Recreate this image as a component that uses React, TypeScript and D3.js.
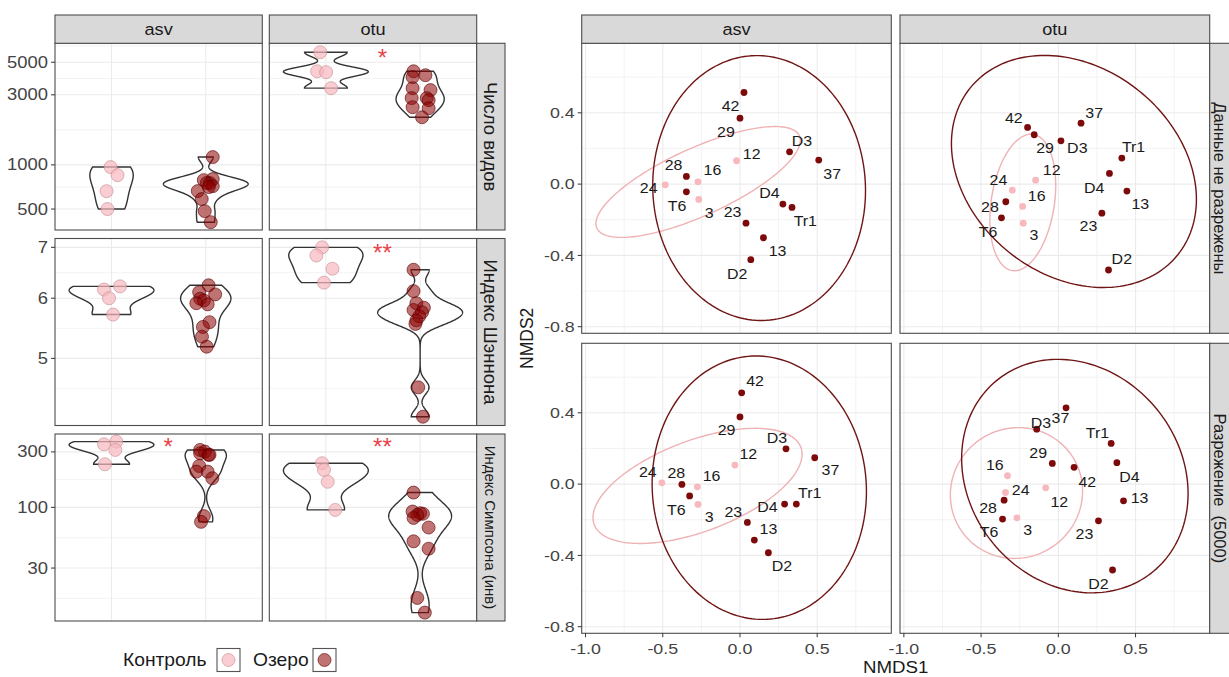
import React from "react";
import * as d3 from "d3";

// ---------- left: violins ----------
const types = ["asv", "otu"];
const metrics = ["Число видов", "Индекс Шэннона", "Индекс Симпсона (инв)"];
const groups = ["Контроль", "Озеро"];

const richAsvCtrl = [966, 851, 662, 500];
const richAsvLake = [1130, 787, 800, 751, 753, 716, 663, 585, 484, 407, 706];
const richOtuCtrl = [5850, 4340, 4280, 3330];
const richOtuLake = [4340, 4080, 3960, 3330, 3230, 2850, 2850, 2760, 2470, 2430, 2110];
const shanAsvCtrl = [6.16, 6.22, 6.0, 5.71];
const shanAsvLake = [6.24, 6.11, 6.07, 5.99, 5.96, 5.91, 5.89, 5.58, 5.5, 5.34, 5.18];
const shanOtuCtrl = [7.0, 6.83, 6.56, 6.29];
const shanOtuLake = [6.54, 6.13, 5.91, 5.83, 5.79, 5.75, 5.68, 5.61, 5.55, 4.58, 4.19];
const simpAsvCtrl = [349, 368, 312, 235];
const simpAsvLake = [312, 302, 292, 283, 283, 227, 203, 203, 178, 84, 75];
const simpOtuCtrl = [240, 210, 166, 95];
const simpOtuLake = [134, 92, 89, 88, 86, 81, 67, 51, 44, 16.6, 12.4];

// jitter (x units)
const jRichAsvCtrl = [-0.01, 0.064, -0.053, -0.043];
const jRichAsvLake = [0.074, -0.021, 0.074, 0.043, 0.011, 0.074, -0.085, -0.043, -0.011, 0.053, 0.032];
const jRichOtuCtrl = [-0.06, -0.093, 0.003, 0.056];
const jRichOtuLake = [-0.07, 0.056, -0.08, -0.08, 0.11, -0.09, 0.07, 0.09, -0.08, 0.09, 0.02];
const jShanAsvCtrl = [-0.08, 0.09, -0.027, 0.016];
const jShanAsvLake = [0.03, -0.07, 0.1, -0.06, -0.02, -0.1, 0.02, 0.04, -0.03, -0.04, 0.01];
const jShanOtuCtrl = [-0.04, -0.1, 0.07, -0.02];
const jShanOtuLake = [-0.07, -0.07, -0.04, 0.04, -0.07, 0.02, -0.01, -0.04, -0.05, -0.02, 0.03];
const jSimpAsvCtrl = [-0.08, 0.05, 0.04, -0.07];
const jSimpAsvLake = [-0.06, -0.01, -0.06, 0.03, 0.04, -0.07, -0.1, 0.02, 0.07, -0.02, -0.05];
const jSimpOtuCtrl = [-0.04, -0.02, 0.02, 0.1];
const jSimpOtuLake = [-0.07, -0.08, 0, 0.03, -0.03, -0.07, 0.09, -0.07, 0.09, -0.03, 0.05];

const violinValues = [
  [[richAsvCtrl, richAsvLake], [richOtuCtrl, richOtuLake]],
  [[shanAsvCtrl, shanAsvLake], [shanOtuCtrl, shanOtuLake]],
  [[simpAsvCtrl, simpAsvLake], [simpOtuCtrl, simpOtuLake]],
];
const violinJitter = [
  [[jRichAsvCtrl, jRichAsvLake], [jRichOtuCtrl, jRichOtuLake]],
  [[jShanAsvCtrl, jShanAsvLake], [jShanOtuCtrl, jShanOtuLake]],
  [[jSimpAsvCtrl, jSimpAsvLake], [jSimpOtuCtrl, jSimpOtuLake]],
];
const metricDomains = [[360, 6730], [4.08, 7.19], [10.5, 428]];
const metricBreaks = [[500, 1000, 3000, 5000], [5, 6, 7], [30, 100, 300]];
const signif = [
  { metric: 0, type: 1, label: "*" },
  { metric: 1, type: 1, label: "**" },
  { metric: 2, type: 0, label: "*" },
  { metric: 2, type: 1, label: "**" },
];

// ---------- right: NMDS ----------
const nmdsRows = ["Данные не разрежены", "Разрежение\u00a0\u00a0(5000)"];
const lakeSamples = ["42", "29", "D3", "37", "28", "T6", "D4", "Tr1", "23", "13", "D2"];
const ctrlSamples = ["24", "16", "3", "12"];

const asvRawLake = [[0.026, 0.514], [0.0, 0.37], [0.321, 0.181], [0.51, 0.135], [-0.347, 0.043], [-0.347, -0.043], [0.278, -0.112], [0.337, -0.131], [0.039, -0.219], [0.152, -0.301], [0.07, -0.424]];
const asvRawLakeLab = [[-0.061, 0.439], [-0.091, 0.293], [0.402, 0.243], [0.597, 0.056], [-0.43, 0.107], [-0.408, -0.122], [0.191, -0.05], [0.423, -0.206], [-0.048, -0.155], [0.243, -0.376], [-0.018, -0.501]];
const asvRawCtrl = [[-0.484, -0.004], [-0.272, 0.013], [-0.267, -0.086], [-0.022, 0.131]];
const asvRawCtrlLab = [[-0.591, -0.019], [-0.178, 0.079], [-0.2, -0.163], [0.076, 0.172]];

const otuRawLake = [[-0.199, 0.318], [-0.156, 0.277], [0.017, 0.243], [0.147, 0.342], [-0.34, -0.099], [-0.368, -0.189], [0.331, 0.06], [0.411, 0.146], [0.282, -0.163], [0.444, -0.039], [0.325, -0.482]];
const otuRawLakeLab = [[-0.288, 0.374], [-0.086, 0.206], [0.123, 0.206], [0.232, 0.402], [-0.443, -0.125], [-0.455, -0.267], [0.232, -0.022], [0.487, 0.211], [0.195, -0.237], [0.531, -0.112], [0.411, -0.421]];
const otuRawCtrl = [[-0.298, -0.034], [-0.231, -0.125], [-0.227, -0.219], [-0.147, 0.022]];
const otuRawCtrlLab = [[-0.388, 0.022], [-0.14, -0.066], [-0.158, -0.286], [-0.043, 0.079]];

const asvRareLake = [[0.011, 0.512], [0.0, 0.377], [0.298, 0.198], [0.484, 0.148], [-0.376, -0.002], [-0.326, -0.066], [0.289, -0.112], [0.365, -0.112], [0.048, -0.215], [0.093, -0.314], [0.184, -0.385]];
const asvRareLakeLab = [[0.098, 0.579], [-0.087, 0.303], [0.239, 0.262], [0.586, 0.079], [-0.412, 0.063], [-0.412, -0.146], [0.178, -0.127], [0.452, -0.049], [-0.043, -0.155], [0.184, -0.249], [0.272, -0.46]];
const asvRareCtrl = [[-0.506, 0.007], [-0.276, -0.015], [-0.272, -0.114], [-0.033, 0.107]];
const asvRareCtrlLab = [[-0.597, 0.069], [-0.184, 0.047], [-0.2, -0.183], [0.054, 0.168]];

const otuRareLake = [[0.102, 0.094], [-0.039, 0.116], [-0.14, 0.308], [0.05, 0.428], [-0.351, -0.09], [-0.361, -0.196], [0.379, 0.12], [0.342, 0.228], [0.26, -0.206], [0.422, -0.094], [0.351, -0.482]];
const otuRareLakeLab = [[0.188, 0.013], [-0.13, 0.178], [-0.112, 0.344], [0.014, 0.374], [-0.455, -0.131], [-0.448, -0.267], [0.461, 0.041], [0.253, 0.29], [0.169, -0.277], [0.526, -0.08], [0.26, -0.561]];
const otuRareCtrl = [[-0.342, -0.047], [-0.329, 0.047], [-0.268, -0.189], [-0.082, -0.021]];
const otuRareCtrlLab = [[-0.244, -0.034], [-0.411, 0.11], [-0.199, -0.254], [0.006, -0.099]];

// ellipse: cx, cy, rx, ry, rho
const asvRawEll = { lake: [0.124, -0.022, 0.689, 0.743, -0.02], ctrl: [-0.271, 0.012, 0.662, 0.311, 0.75] };
const otuRawEll = { lake: [0.101, 0.071, 0.793, 0.651, -0.24], ctrl: [-0.23, -0.103, 0.213, 0.383, 0.25] };
const asvRareEll = { lake: [0.125, -0.02, 0.694, 0.739, -0.03], ctrl: [-0.275, -0.01, 0.677, 0.323, 0.55] };
const otuRareEll = { lake: [0.107, 0.045, 0.733, 0.655, -0.15], ctrl: [-0.271, -0.05, 0.428, 0.367, 0.03] };

const nmdsPanels = [
  [
    { lake: asvRawLake, lakeLab: asvRawLakeLab, ctrl: asvRawCtrl, ctrlLab: asvRawCtrlLab, ell: asvRawEll },
    { lake: otuRawLake, lakeLab: otuRawLakeLab, ctrl: otuRawCtrl, ctrlLab: otuRawCtrlLab, ell: otuRawEll },
  ],
  [
    { lake: asvRareLake, lakeLab: asvRareLakeLab, ctrl: asvRareCtrl, ctrlLab: asvRareCtrlLab, ell: asvRareEll },
    { lake: otuRareLake, lakeLab: otuRareLakeLab, ctrl: otuRareCtrl, ctrlLab: otuRareCtrlLab, ell: otuRareEll },
  ],
];
const nmdsXBreaks = [-1.0, -0.5, 0.0, 0.5];
const nmdsYBreaks = [-0.8, -0.4, 0.0, 0.4];

// ---------- helpers ----------
const FONT = "'Liberation Sans', Arial, sans-serif";
const GRID = "#ebebeb";
const BORDER = "#4d4d4d";
const STRIP = "#d9d9d9";
const AXIS = "#444";
const PINK = "#f7b8be";
const DARK = "#7d0a0a";

function minorBreaks(b: number[], lim: number[]) {
  let bb = [...b];
  if (lim[0] < bb[0]) bb = [bb[0] - (bb[1] - bb[0]), ...bb];
  const n = bb.length;
  if (lim[1] > bb[n - 1]) bb = [...bb, bb[n - 1] + (bb[n - 1] - bb[n - 2])];
  const out: number[] = [];
  for (let i = 0; i < bb.length - 1; i++) out.push((bb[i] + bb[i + 1]) / 2);
  return out.filter((v) => v > lim[0] && v < lim[1]);
}

function bwNrd0(x: number[]) {
  const s = d3.deviation(x) || 0;
  const sorted = [...x].sort((a, b) => a - b);
  const iqr = (d3.quantileSorted(sorted, 0.75) || 0) - (d3.quantileSorted(sorted, 0.25) || 0);
  let lo = Math.min(s, iqr / 1.34);
  if (!lo) lo = s || Math.abs(x[0]) || 1;
  return 0.9 * lo * Math.pow(x.length, -0.2);
}

function kde(vals: number[]) {
  const lv = vals.map(Math.log10);
  const bw = bwNrd0(lv);
  const lo = d3.min(lv)!;
  const hi = d3.max(lv)!;
  const n = lv.length;
  return d3.range(512).map((i) => {
    const y = lo + ((hi - lo) * i) / 511;
    const d = d3.sum(lv, (v) => Math.exp(-0.5 * ((y - v) / bw) ** 2)) / (n * bw * Math.sqrt(2 * Math.PI));
    return { y, d };
  });
}

function T({ x, y, size, anchor = "middle", fill = "#1a1a1a", sx = 1.12, rot = 0, children }: any) {
  const tr = rot ? `translate(${x},${y}) rotate(${rot})` : `translate(${x},${y}) scale(${sx},1)`;
  return (
    <text transform={tr} fontSize={size} textAnchor={anchor} dominantBaseline="central" fill={fill} fontFamily={FONT}>
      {children}
    </text>
  );
}

const line = d3.line();

// layout
const LC = [[55, 262.3], [269.3, 476.7]];
const LR = [[43.3, 230], [238.5, 425.5], [434, 621]];
const LSR = [476.7, 505];
const RC = [[581.7, 891.3], [900, 1209.7]];
const RR = [[43.3, 333.3], [343.3, 633.3]];
const RSR = [1209.7, 1240];
const STRIP_TOP = 15;

function LeftPlot() {
  const out: any[] = [];
  metrics.forEach((m, ri) => {
    const [top, bot] = LR[ri];
    const dom = metricDomains[ri];
    const ys = d3.scaleLog().domain(dom).range([bot, top]);
    const logB = metricBreaks[ri].map(Math.log10);
    const minors = minorBreaks(logB, dom.map(Math.log10)).map((v) => Math.pow(10, v));
    const rowMax = d3.max(violinValues[ri].flat(2))!;
    types.forEach((t, ci) => {
      const [x0, x1] = LC[ci];
      const xs = d3.scaleLinear().domain([0.4, 2.6]).range([x0, x1]);
      const dens = violinValues[ri][ci].map((v) => kde(v));
      const maxD = d3.max(dens.flat(), (p) => p.d)!;
      out.push(
        <g key={`p${ri}${ci}`}>
          <rect x={x0} y={top} width={x1 - x0} height={bot - top} fill="#fff" />
          {minors.map((v, i) => (
            <line key={`mi${i}`} x1={x0} x2={x1} y1={ys(v)} y2={ys(v)} stroke={GRID} strokeWidth={0.6} />
          ))}
          {metricBreaks[ri].map((v, i) => (
            <line key={`ma${i}`} x1={x0} x2={x1} y1={ys(v)} y2={ys(v)} stroke={GRID} strokeWidth={1.1} />
          ))}
          {[1, 2].map((v) => (
            <line key={`vx${v}`} x1={xs(v)} x2={xs(v)} y1={top} y2={bot} stroke={GRID} strokeWidth={1.1} />
          ))}
          {dens.map((dd, gi) => {
            const pos = gi + 1;
            const left = dd.map((p) => [xs(pos - (0.45 * p.d) / maxD), ys(Math.pow(10, p.y))] as [number, number]);
            const right = dd.map((p) => [xs(pos + (0.45 * p.d) / maxD), ys(Math.pow(10, p.y))] as [number, number]).reverse();
            return <path key={`v${gi}`} d={line([...left, ...right])! + "Z"} fill="none" stroke="#333" strokeWidth={1.4} />;
          })}
          {violinValues[ri][ci].map((vals, gi) =>
            vals.map((v, k) => (
              <circle
                key={`c${gi}-${k}`}
                cx={xs(gi + 1 + violinJitter[ri][ci][gi][k])}
                cy={ys(v)}
                r={6.5}
                fill={gi === 0 ? PINK : "#8b0000"}
                fillOpacity={gi === 0 ? 0.7 : 0.55}
                stroke={gi === 0 ? "#c48a8f" : "#5a0000"}
                strokeOpacity={0.6}
                strokeWidth={1}
              />
            ))
          )}
          {signif
            .filter((s) => s.metric === ri && s.type === ci)
            .map((s, i) => (
              <text key={`s${i}`} x={xs(1.6)} y={ys(rowMax) + 13.5} fontSize={24} textAnchor="middle" fill="#e8434a" fontFamily={FONT}>
                {s.label}
              </text>
            ))}
          <rect x={x0} y={top} width={x1 - x0} height={bot - top} fill="none" stroke={BORDER} strokeWidth={1.1} />
        </g>
      );
    });
    // y axis
    out.push(
      <g key={`ya${ri}`}>
        {metricBreaks[ri].map((v, i) => (
          <g key={i}>
            <line x1={LC[0][0] - 4} x2={LC[0][0]} y1={ys(v)} y2={ys(v)} stroke="#333" strokeWidth={1} />
            <T x={LC[0][0] - 7} y={ys(v)} size={16} anchor="end" fill={AXIS} sx={1.15}>
              {v}
            </T>
          </g>
        ))}
      </g>
    );
    // right strip
    out.push(
      <g key={`rs${ri}`}>
        <rect x={LSR[0]} y={top} width={LSR[1] - LSR[0]} height={bot - top} fill={STRIP} stroke={BORDER} strokeWidth={1.1} />
        <T x={(LSR[0] + LSR[1]) / 2} y={(top + bot) / 2} size={ri === 2 ? 15 : 18.5} rot={90}>
          {m}
        </T>
      </g>
    );
  });
  types.forEach((t, ci) => {
    const [x0, x1] = LC[ci];
    out.push(
      <g key={`ts${ci}`}>
        <rect x={x0} y={STRIP_TOP} width={x1 - x0} height={LR[0][0] - STRIP_TOP} fill={STRIP} stroke={BORDER} strokeWidth={1.1} />
        <T x={(x0 + x1) / 2} y={(STRIP_TOP + LR[0][0]) / 2} size={16.5} sx={1.1}>
          {t}
        </T>
      </g>
    );
  });
  // legend
  const legY = 660;
  const legItems = [
    { label: groups[0], tx: 123, bx: 217, fill: PINK, op: 0.7, st: "#c48a8f" },
    { label: groups[1], tx: 253, bx: 313, fill: "#8b0000", op: 0.55, st: "#5a0000" },
  ];
  out.push(
    <g key="legend">
      {legItems.map((it, i) => (
        <g key={i}>
          <T x={it.tx} y={legY} size={17.5} anchor="start" sx={1.1}>
            {it.label}
          </T>
          <rect x={it.bx} y={legY - 11.5} width={23} height={23} fill="#fff" stroke="#555" strokeWidth={1.1} />
          <circle cx={it.bx + 11.5} cy={legY} r={6.5} fill={it.fill} fillOpacity={it.op} stroke={it.st} strokeOpacity={0.6} />
        </g>
      ))}
    </g>
  );
  return <g>{out}</g>;
}

function ellipsePath(e: number[], xs: any, ys: any) {
  const [cx, cy, rx, ry, rho] = e;
  const s = Math.sqrt(1 - rho * rho);
  const pts = d3.range(0, 361, 2).map((deg) => {
    const a = (deg * Math.PI) / 180;
    return [xs(cx + rx * Math.cos(a)), ys(cy + ry * (rho * Math.cos(a) + s * Math.sin(a)))] as [number, number];
  });
  return line(pts)! + "Z";
}

function RightPlot() {
  const out: any[] = [];
  const xDom = [-1.025, 0.98];
  const yDom = [-0.837, 0.79];
  const xMin = minorBreaks(nmdsXBreaks, xDom);
  const yMin = minorBreaks(nmdsYBreaks, yDom);
  const fmt = (v: number) => d3.format(".1f")(v).replace("−", "-");
  nmdsRows.forEach((rname, ri) => {
    const [top, bot] = RR[ri];
    const ys = d3.scaleLinear().domain(yDom).range([bot, top]);
    types.forEach((t, ci) => {
      const [x0, x1] = RC[ci];
      const xs = d3.scaleLinear().domain(xDom).range([x0, x1]);
      const p = nmdsPanels[ri][ci];
      out.push(
        <g key={`n${ri}${ci}`}>
          <rect x={x0} y={top} width={x1 - x0} height={bot - top} fill="#fff" />
          {xMin.map((v, i) => (
            <line key={`xm${i}`} x1={xs(v)} x2={xs(v)} y1={top} y2={bot} stroke={GRID} strokeWidth={0.6} />
          ))}
          {yMin.map((v, i) => (
            <line key={`ym${i}`} x1={x0} x2={x1} y1={ys(v)} y2={ys(v)} stroke={GRID} strokeWidth={0.6} />
          ))}
          {nmdsXBreaks.map((v, i) => (
            <line key={`xM${i}`} x1={xs(v)} x2={xs(v)} y1={top} y2={bot} stroke={GRID} strokeWidth={1.1} />
          ))}
          {nmdsYBreaks.map((v, i) => (
            <line key={`yM${i}`} x1={x0} x2={x1} y1={ys(v)} y2={ys(v)} stroke={GRID} strokeWidth={1.1} />
          ))}
          <path d={ellipsePath(p.ell.ctrl, xs, ys)} fill="none" stroke="#efb2b5" strokeWidth={1.4} />
          <path d={ellipsePath(p.ell.lake, xs, ys)} fill="none" stroke="#701515" strokeWidth={1.4} />
          {p.ctrl.map((d, i) => (
            <circle key={`cp${i}`} cx={xs(d[0])} cy={ys(d[1])} r={3.4} fill={PINK} />
          ))}
          {p.lake.map((d, i) => (
            <circle key={`lp${i}`} cx={xs(d[0])} cy={ys(d[1])} r={3.4} fill={DARK} />
          ))}
          {p.ctrlLab.map((d, i) => (
            <T key={`cl${i}`} x={xs(d[0])} y={ys(d[1])} size={14} sx={1.14}>
              {ctrlSamples[i]}
            </T>
          ))}
          {p.lakeLab.map((d, i) => (
            <T key={`ll${i}`} x={xs(d[0])} y={ys(d[1])} size={14} sx={1.14}>
              {lakeSamples[i]}
            </T>
          ))}
          <rect x={x0} y={top} width={x1 - x0} height={bot - top} fill="none" stroke={BORDER} strokeWidth={1.1} />
        </g>
      );
      if (ri === nmdsRows.length - 1) {
        out.push(
          <g key={`xa${ci}`}>
            {nmdsXBreaks.map((v, i) => (
              <g key={i}>
                <line x1={xs(v)} x2={xs(v)} y1={bot} y2={bot + 4} stroke="#333" strokeWidth={1} />
                <T x={xs(v)} y={bot + 16} size={15.5} fill={AXIS} sx={1.15}>
                  {fmt(v)}
                </T>
              </g>
            ))}
          </g>
        );
      }
    });
    out.push(
      <g key={`ya${ri}`}>
        {nmdsYBreaks.map((v, i) => (
          <g key={i}>
            <line x1={RC[0][0] - 4} x2={RC[0][0]} y1={ys(v)} y2={ys(v)} stroke="#333" strokeWidth={1} />
            <T x={RC[0][0] - 7} y={ys(v)} size={15.5} anchor="end" fill={AXIS} sx={1.15}>
              {fmt(v)}
            </T>
          </g>
        ))}
        <rect x={RSR[0]} y={top} width={RSR[1] - RSR[0]} height={bot - top} fill={STRIP} stroke={BORDER} strokeWidth={1.1} />
        <T x={1220} y={(top + bot) / 2} size={16.5} rot={90}>
          {rname}
        </T>
      </g>
    );
  });
  types.forEach((t, ci) => {
    const [x0, x1] = RC[ci];
    out.push(
      <g key={`ts${ci}`}>
        <rect x={x0} y={STRIP_TOP} width={x1 - x0} height={RR[0][0] - STRIP_TOP} fill={STRIP} stroke={BORDER} strokeWidth={1.1} />
        <T x={(x0 + x1) / 2} y={(STRIP_TOP + RR[0][0]) / 2} size={16.5} sx={1.1}>
          {t}
        </T>
      </g>
    );
  });
  out.push(
    <g key="titles">
      <T x={(RC[0][0] + RC[1][1]) / 2} y={667} size={17} sx={1.1}>
        NMDS1
      </T>
      <T x={527} y={(RR[0][0] + RR[1][1]) / 2} size={17.5} rot={-90}>
        NMDS2
      </T>
    </g>
  );
  return <g>{out}</g>;
}

export default function App() {
  return (
    <svg width={1229} height={677} style={{ position: "absolute", left: 0, top: 0, background: "#fff" }} fontFamily={FONT}>
      <rect width={1229} height={677} fill="#fff" />
      <LeftPlot />
      <RightPlot />
    </svg>
  );
}
